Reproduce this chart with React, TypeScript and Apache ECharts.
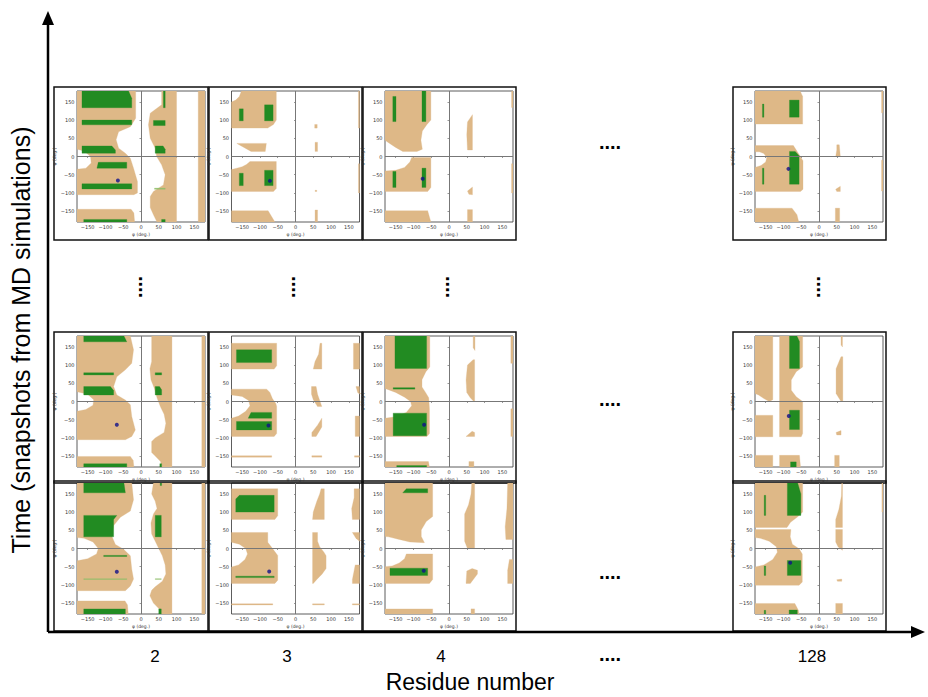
import React, { useEffect, useRef } from "react";
import * as echarts from "echarts";

type Pt = [number, number];

// ---- tick values of every small phi/psi panel ----
const angleTicks = [-150, -100, -50, 0, 50, 100, 150];
const residueLabels = ["2", "3", "4", "....", "128"];

// ---- Row 1 (top snapshot) ----
const tanA: Pt[][] = [
  [[-180,180],[-15,180],[-15,105],[-30,82],[-63,68],[-70,46],[-63,23],[-44,9],[-30,-5],[-21,-32],[-10,-69],[-10,-100],[-20,-105],[-180,-105],[-180,-35],[-155,-32],[-140,-18],[-142,0],[-160,15],[-180,20]],
  [[-180,-145],[-28,-145],[-20,-155],[-18,-180],[-180,-180]],
  [[58,180],[100,180],[100,-180],[45,-180],[35,-160],[26,-140],[26,-110],[35,-96],[63,-78],[68,-50],[58,-23],[44,0],[40,23],[26,50],[21,87],[26,119],[58,142]],
  [[161,180],[180,180],[180,-180],[161,-180]],
];
const greenA: Pt[][] = [
  [[-166,180],[-35,180],[-26,160],[-26,134],[-166,134]],
  [[-166,100],[-26,100],[-26,87],[-166,87]],
  [[-166,29],[-82,29],[-72,18],[-72,9],[-166,9]],
  [[-120,-16],[-40,-16],[-40,-32],[-124,-32]],
  [[-166,-75],[-26,-75],[-26,-89],[-166,-89]],
  [[-161,-173],[-40,-173],[-40,-180],[-161,-180]],
  [[63,180],[68,180],[68,134],[63,134]],
  [[35,99],[68,99],[68,85],[35,85]],
  [[40,29],[62,29],[68,20],[68,9],[40,9]],
  [[58,-173],[68,-173],[68,-180],[58,-180]],
];
const lightA: Pt[][] = [[[38,-87],[68,-87],[68,-90],[38,-90]]];
const dotA: Pt = [-65, -66];

const tanB: Pt[][] = [
  [[-180,150],[-168,155],[-158,165],[-152,180],[-54,180],[-54,100],[-62,88],[-78,78],[-180,78]],
  [[-165,36],[-82,36],[-85,14],[-125,14]],
  [[-180,-36],[-165,-32],[-150,-28],[-138,-22],[-128,-14],[-54,-14],[-54,-88],[-62,-96],[-180,-96]],
  [[-180,-149],[-77,-149],[-58,-180],[-180,-180]],
  [[54,88],[61,88],[61,78],[54,78]],
  [[55,39],[62,39],[62,14],[55,14]],
  [[55,-93],[60,-93],[60,-96],[55,-96]],
  [[55,-147],[62,-147],[62,-180],[55,-180]],
  [[177,180],[180,180],[180,78],[177,78]],
  [[177,-20],[180,-20],[180,-100],[177,-100]],
];
const greenB: Pt[][] = [
  [[-158,131],[-147,131],[-147,98],[-158,98]],
  [[-87,142],[-63,142],[-63,98],[-87,98]],
  [[-158,-46],[-147,-46],[-147,-80],[-158,-80]],
  [[-87,-38],[-63,-38],[-63,-80],[-87,-80]],
];
const dotB: Pt = [-72, -67];

const tanC: Pt[][] = [
  [[-180,180],[-51,180],[-51,100],[-62,88],[-75,70],[-79,45],[-75,20],[-90,14],[-130,14],[-150,25],[-170,38],[-180,45]],
  [[-180,-40],[-150,-38],[-125,-30],[-110,-15],[-105,-3],[-51,-3],[-51,-85],[-60,-96],[-180,-96]],
  [[-180,-149],[-60,-149],[-51,-180],[-180,-180]],
  [[66,115],[52,95],[50,60],[52,18],[66,18]],
  [[52,-95],[66,-84],[66,-105],[56,-104]],
  [[52,-146],[66,-146],[66,-180],[52,-180]],
  [[176,180],[180,180],[180,135],[176,135]],
  [[176,-20],[180,-20],[180,-100],[176,-100]],
];
const greenC: Pt[][] = [
  [[-158,165],[-149,165],[-149,96],[-158,96]],
  [[-76,180],[-65,180],[-65,96],[-76,96]],
  [[-158,-41],[-149,-41],[-149,-85],[-158,-85]],
  [[-76,-32],[-65,-32],[-65,-85],[-76,-85]],
];
const dotC: Pt = [-74, -61];

const tanD: Pt[][] = [
  [[-180,180],[-53,180],[-46,165],[-46,89],[-180,89]],
  [[-180,30],[-72,30],[-45,-12],[-45,-90],[-52,-96],[-180,-96],[-180,-30],[-163,-25],[-150,-15],[-147,-3],[-155,8],[-168,13],[-180,13]],
  [[-180,-142],[-76,-142],[-62,-160],[-57,-180],[-180,-180]],
  [[50,32],[57,32],[60,0],[47,0],[50,18]],
  [[47,-90],[60,-82],[60,-96],[50,-96]],
  [[46,-142],[58,-142],[58,-180],[46,-180]],
  [[176,180],[180,180],[180,120],[176,120]],
  [[176,-10],[180,-10],[180,-95],[176,-95]],
];
const greenD: Pt[][] = [
  [[-159,144],[-155,144],[-155,108],[-159,108]],
  [[-83,155],[-56,155],[-56,108],[-83,108]],
  [[-83,14],[-67,14],[-56,2],[-56,-76],[-83,-76]],
  [[-159,-32],[-155,-32],[-155,-76],[-159,-76]],
];
const dotD: Pt = [-86, -34];

// ---- Row 2 (middle snapshot) ----
const tanE: Pt[][] = [
  [[-180,180],[-30,180],[-21,142],[-26,105],[-44,87],[-68,68],[-77,41],[-68,18],[-44,4],[-30,-9],[-26,-41],[-16,-78],[-26,-96],[-44,-105],[-180,-105],[-180,-27],[-155,-22],[-135,-10],[-133,5],[-150,20],[-180,27]],
  [[-180,-151],[-30,-151],[-22,-162],[-20,-180],[-180,-180]],
  [[30,180],[87,180],[87,-180],[58,-180],[55,-165],[40,-150],[30,-140],[30,-110],[40,-100],[65,-85],[70,-60],[65,-35],[55,-15],[45,10],[38,35],[28,60],[25,90],[30,110]],
  [[171,180],[180,180],[180,-180],[171,-180]],
];
const greenE: Pt[][] = [
  [[-161,180],[-48,180],[-40,164],[-161,164]],
  [[-161,79],[-77,79],[-77,73],[-161,73]],
  [[-161,41],[-86,41],[-77,30],[-77,18],[-161,18]],
  [[-161,-171],[-40,-171],[-40,-180],[-161,-180]],
  [[40,79],[58,79],[58,73],[40,73]],
  [[40,41],[52,41],[58,32],[58,18],[40,18]],
  [[53,-171],[58,-171],[58,-180],[53,-180]],
];
const dotE: Pt = [-68, -64];

const tanF: Pt[][] = [
  [[-180,160],[-53,160],[-53,98],[-60,89],[-180,89]],
  [[-180,34],[-81,34],[-72,25],[-65,8],[-55,-6],[-53,-14],[-53,-88],[-60,-96],[-180,-96],[-180,-46],[-160,-40],[-140,-27],[-128,-12],[-132,3],[-150,14],[-180,18]],
  [[-180,-149],[-67,-149],[-67,-153],[-180,-153]],
  [[69,160],[74,160],[74,89],[50,89],[55,110],[65,130]],
  [[45,41],[58,41],[62,20],[74,-14],[62,-14],[50,5],[45,20]],
  [[74,-46],[74,-70],[58,-96],[46,-96],[46,-85],[62,-65]],
  [[46,-149],[74,-149],[74,-153],[46,-153]],
  [[163,160],[180,160],[180,89],[163,89]],
  [[170,41],[180,41],[180,20],[175,25]],
  [[168,-40],[180,-40],[180,-96],[168,-96]],
  [[166,-149],[180,-149],[180,-153],[166,-153]],
];
const greenF: Pt[][] = [
  [[-166,142],[-67,142],[-67,107],[-166,107]],
  [[-125,-30],[-67,-30],[-67,-46],[-133,-46]],
  [[-166,-55],[-67,-55],[-67,-78],[-166,-78]],
];
const dotF: Pt = [-76, -66];

const tanG: Pt[][] = [
  [[-180,180],[-54,180],[-54,95],[-65,82],[-76,60],[-76,40],[-66,25],[-57,10],[-55,-20],[-55,-88],[-62,-96],[-180,-96],[-180,-46],[-150,-42],[-120,-30],[-105,-12],[-108,0],[-125,12],[-150,25],[-180,36]],
  [[-180,-165],[-58,-165],[-55,-180],[-180,-180]],
  [[68,115],[52,100],[48,60],[50,25],[60,10],[70,0],[72,0],[72,115]],
  [[68,180],[73,180],[73,140],[68,148]],
  [[48,-96],[65,-82],[72,-85],[72,-96]],
  [[56,-165],[70,-165],[70,-180],[56,-180]],
  [[174,180],[180,180],[180,105],[174,105]],
  [[174,-20],[180,-20],[180,-96],[174,-96]],
];
const greenG: Pt[][] = [
  [[-152,180],[-63,180],[-63,91],[-152,91]],
  [[-157,38],[-96,38],[-96,34],[-157,34]],
  [[-157,-32],[-63,-32],[-63,-94],[-157,-94]],
  [[-147,-176],[-63,-176],[-63,-180],[-147,-180]],
];
const dotG: Pt = [-70, -64];

const tanH: Pt[][] = [
  [[-180,180],[-130,180],[-130,5],[-140,0],[-155,8],[-170,18],[-180,22]],
  [[-180,-38],[-130,-38],[-130,-97],[-180,-97]],
  [[-180,-148],[-130,-148],[-130,-180],[-180,-180]],
  [[-111,180],[-46,180],[-46,95],[-64,82],[-78,59],[-78,31],[-64,13],[-46,0],[-46,-88],[-50,-97],[-111,-97]],
  [[-111,-148],[-55,-148],[-52,-180],[-111,-180]],
  [[62,123],[67,123],[67,0],[62,0],[48,22],[48,90]],
  [[62,180],[66,180],[66,150],[62,155]],
  [[48,-85],[62,-80],[62,-92],[50,-92]],
  [[44,-148],[57,-148],[57,-180],[44,-180]],
];
const greenH: Pt[][] = [
  [[-83,180],[-62,180],[-55,165],[-55,91],[-83,91]],
  [[-83,-24],[-55,-24],[-55,-77],[-83,-77]],
  [[-80,-166],[-64,-166],[-64,-180],[-80,-180]],
];
const dotH: Pt = [-85, -40];

// ---- Row 3 (bottom snapshot) ----
const tanI: Pt[][] = [
  [[-180,180],[-26,180],[-21,134],[-30,103],[-58,86],[-77,63],[-82,34],[-72,11],[-49,-2],[-30,-20],[-26,-57],[-21,-84],[-30,-103],[-44,-116],[-180,-116],[-180,-34],[-150,-28],[-125,-15],[-120,0],[-135,18],[-160,28],[-180,30]],
  [[-180,-144],[-45,-144],[-38,-155],[-36,-180],[-180,-180]],
  [[35,180],[87,180],[87,-180],[55,-180],[50,-165],[35,-150],[25,-130],[30,-115],[40,-105],[60,-90],[70,-70],[68,-45],[60,-20],[50,0],[40,20],[30,40],[28,70],[35,95],[45,110],[40,130],[30,150]],
  [[171,180],[180,180],[180,-180],[171,-180]],
];
const greenI: Pt[][] = [
  [[-161,180],[-48,180],[-44,153],[-161,153]],
  [[-161,91],[-68,91],[-77,80],[-77,32],[-161,32]],
  [[-105,-19],[-40,-19],[-40,-22],[-105,-22]],
  [[-161,-166],[-44,-166],[-44,-180],[-161,-180]],
  [[40,91],[57,91],[57,32],[40,32]],
  [[50,-166],[57,-166],[57,-180],[50,-180]],
  [[54,180],[58,180],[58,173],[54,173]],
];
const lightI: Pt[][] = [
  [[-161,-83],[-40,-83],[-40,-85],[-161,-85]],
  [[40,-83],[57,-83],[57,-85],[40,-85]],
];
const dotI: Pt = [-68, -64];

const tanJ: Pt[][] = [
  [[-180,164],[-50,164],[-50,90],[-58,80],[-180,80]],
  [[-180,44],[-78,44],[-78,17],[-64,-1],[-50,-19],[-50,-87],[-58,-96],[-180,-96],[-180,-51],[-160,-45],[-142,-30],[-135,-15],[-140,0],[-158,12],[-180,17]],
  [[-180,-152],[-64,-152],[-64,-155],[-180,-155]],
  [[72,164],[81,164],[81,80],[48,80],[50,100],[60,130],[68,150]],
  [[48,44],[62,44],[62,20],[68,5],[80,-10],[86,-20],[86,-55],[75,-70],[60,-85],[50,-96],[48,-96]],
  [[48,-152],[81,-152],[81,-155],[48,-155]],
  [[165,164],[180,164],[180,80],[160,80],[158,110],[165,140]],
  [[160,44],[180,44],[180,20],[170,28]],
  [[168,-45],[180,-45],[180,-96],[160,-96],[160,-85]],
  [[160,-152],[180,-152],[180,-155],[160,-155]],
];
const greenJ: Pt[][] = [
  [[-158,146],[-60,146],[-60,100],[-168,100],[-168,136]],
  [[-168,-76],[-60,-76],[-60,-80],[-168,-80]],
];
const dotJ: Pt = [-74, -63];

const tanK: Pt[][] = [
  [[-180,180],[-46,180],[-46,88],[-64,74],[-78,51],[-78,33],[-69,16],[-110,18],[-140,25],[-170,32],[-180,33]],
  [[-180,-50],[-160,-48],[-140,-40],[-125,-28],[-120,-15],[-46,-15],[-46,-85],[-55,-96],[-180,-96]],
  [[-180,-166],[-46,-166],[-46,-180],[-180,-180]],
  [[64,180],[72,180],[72,0],[52,0],[44,20],[44,95],[55,120],[62,150]],
  [[50,-62],[65,-55],[80,-60],[80,-70],[60,-96],[48,-96]],
  [[62,-166],[72,-166],[72,-180],[62,-180]],
  [[165,180],[180,180],[180,25],[160,25],[158,60],[163,110]],
  [[170,-30],[180,-30],[180,-96],[165,-96],[165,-60]],
];
const greenK: Pt[][] = [
  [[-120,164],[-60,164],[-60,153],[-130,153]],
  [[-166,-54],[-60,-54],[-60,-74],[-166,-74]],
];
const dotK: Pt = [-71, -61];

const tanL: Pt[][] = [
  [[-180,180],[-46,180],[-46,100],[-60,87],[-80,72],[-90,58],[-180,58]],
  [[-180,52],[-79,52],[-81,32],[-75,12],[-56,-1],[-47,-15],[-47,-92],[-56,-101],[-180,-101],[-180,-51],[-155,-45],[-130,-30],[-117,-10],[-120,5],[-140,20],[-165,28],[-180,30]],
  [[-180,-151],[-68,-151],[-58,-170],[-56,-180],[-180,-180]],
  [[64,180],[66,180],[66,58],[47,58],[47,80],[56,108],[63,144]],
  [[47,52],[66,52],[66,-5],[54,4],[47,18]],
  [[50,-86],[64,-84],[64,-90],[52,-90]],
  [[47,-151],[66,-151],[66,-180],[47,-180]],
  [[177,180],[180,180],[180,100],[177,100]],
];
const greenL: Pt[][] = [
  [[-154,146],[-150,146],[-150,91],[-154,91]],
  [[-89,180],[-60,180],[-51,150],[-51,91],[-89,91]],
  [[-89,-33],[-51,-33],[-51,-74],[-89,-74]],
  [[-154,-48],[-150,-48],[-150,-74],[-154,-74]],
  [[-154,-170],[-150,-170],[-150,-180],[-154,-180]],
  [[-84,-169],[-61,-169],[-61,-180],[-84,-180]],
];
const dotL: Pt = [-81, -39];

// ---- layout (pixels) ----
const colLeft = [77, 231.5, 385, 755];
const rowTop = [91, 336, 483];
const plotW = 128;
const plotH = 131;
const frameX = [[54, 208], [209, 362], [363, 516], [733, 886]];
const frameY = [[87, 240], [332, 483], [481, 631]];
const residueX = [155, 287, 441, 610, 812];

const TAN = "#DEB887";
const GREEN = "#228B22";
const LIGHT = "#8FBF6A";

const panels = [
  { tan: tanA, green: greenA, light: lightA, dot: dotA },
  { tan: tanB, green: greenB, light: [], dot: dotB },
  { tan: tanC, green: greenC, light: [], dot: dotC },
  { tan: tanD, green: greenD, light: [], dot: dotD },
  { tan: tanE, green: greenE, light: [], dot: dotE },
  { tan: tanF, green: greenF, light: [], dot: dotF },
  { tan: tanG, green: greenG, light: [], dot: dotG },
  { tan: tanH, green: greenH, light: [], dot: dotH },
  { tan: tanI, green: greenI, light: lightI, dot: dotI },
  { tan: tanJ, green: greenJ, light: [], dot: dotJ },
  { tan: tanK, green: greenK, light: [], dot: dotK },
  { tan: tanL, green: greenL, light: [], dot: dotL },
];

const fmt = (v: number) => (v < 0 ? "\u2212" + Math.abs(v) : String(v));

function buildOption() {
  const grid: any[] = [];
  const xAxis: any[] = [];
  const yAxis: any[] = [];
  const series: any[] = [];
  const graphic: any[] = [];

  panels.forEach((p, i) => {
    const r = Math.floor(i / 4);
    const c = i % 4;
    grid.push({
      left: colLeft[c], top: rowTop[r], width: plotW, height: plotH,
      show: true, borderColor: "#333", borderWidth: 0.8, backgroundColor: "#fff",
    });
    const axisCommon = {
      gridIndex: i, type: "value", min: -180, max: 180,
      nameLocation: "middle",
      nameTextStyle: { fontSize: 4.5, color: "#333", fontFamily: "DejaVu Sans" },
      axisLine: { show: false },
      axisTick: { show: true, length: 1.5, customValues: angleTicks, lineStyle: { color: "#333", width: 0.5 } },
      axisLabel: { fontSize: 5, color: "#333", margin: 2.5, customValues: angleTicks, formatter: fmt, fontFamily: "DejaVu Sans" },
      splitLine: { show: false },
    };
    xAxis.push({ ...axisCommon, name: "φ (deg.)", nameGap: 10 });
    yAxis.push({ ...axisCommon, name: "ψ (deg.)", nameGap: 15, nameRotate: 90 });

    const items = [
      ...p.tan.map((poly) => ({ poly, color: TAN })),
      ...p.light.map((poly) => ({ poly, color: LIGHT })),
      ...p.green.map((poly) => ({ poly, color: GREEN })),
    ];
    series.push({
      type: "custom",
      coordinateSystem: "cartesian2d",
      xAxisIndex: i, yAxisIndex: i,
      silent: true, clip: true, z: 1,
      data: items.map((it, k) => [it.poly[0][0], it.poly[0][1], k]),
      renderItem: (params: any, api: any) => {
        const it = items[params.dataIndex];
        return {
          type: "polygon",
          shape: { points: it.poly.map((pt) => api.coord(pt)) },
          style: { fill: it.color, stroke: it.color, lineWidth: 0.3 },
        };
      },
    });
    series.push({
      type: "scatter",
      xAxisIndex: i, yAxisIndex: i, z: 3, silent: true,
      symbol: "circle", symbolSize: 4,
      itemStyle: { color: "#10108a" },
      data: [p.dot],
      markLine: {
        silent: true, symbol: ["none", "none"], label: { show: false },
        lineStyle: { color: "#777", width: 1, type: "solid" },
        data: [{ xAxis: 0 }, { yAxis: 0 }],
      },
    });
    graphic.push({
      type: "rect",
      shape: { x: frameX[c][0], y: frameY[r][0], width: frameX[c][1] - frameX[c][0], height: frameY[r][1] - frameY[r][0] },
      style: { fill: "none", stroke: "#111", lineWidth: 1.5 },
    });
  });

  // main axes with arrows
  graphic.push(
    { type: "line", shape: { x1: 48, y1: 632, x2: 914, y2: 632 }, style: { stroke: "#000", lineWidth: 2.5 } },
    { type: "line", shape: { x1: 48, y1: 632, x2: 48, y2: 22 }, style: { stroke: "#000", lineWidth: 2.5 } },
    { type: "polygon", shape: { points: [[42, 25], [54, 25], [48, 11]] }, style: { fill: "#000" } },
    { type: "polygon", shape: { points: [[911, 626], [911, 638], [925, 632]] }, style: { fill: "#000" } },
  );

  residueLabels.forEach((t, k) => {
    graphic.push({
      type: "text", x: residueX[k], y: t === "...." ? 664 : 656,
      style: {
        text: t, fill: "#000", fontSize: t === "...." ? 20 : 17,
        fontWeight: t === "...." ? "bold" : "normal",
        fontFamily: "Liberation Sans", align: "center",
        verticalAlign: t === "...." ? "bottom" : "middle",
      },
    });
  });
  graphic.push({
    type: "text", x: 470, y: 682,
    style: { text: "Residue number", fill: "#000", fontSize: 23, fontFamily: "Liberation Sans", align: "center", verticalAlign: "middle" },
  });
  graphic.push({
    type: "text", x: 21, y: 340, rotation: Math.PI / 2,
    style: { text: "Time (snapshots from MD simulations)", fill: "#000", fontSize: 25, fontFamily: "Liberation Sans", align: "center", verticalAlign: "middle" },
  });

  // ellipsis marks between panels
  const hDots: [number, number][] = [[610, 152], [610, 409], [610, 582]];
  hDots.forEach(([x, y]) => {
    graphic.push({
      type: "text", x, y,
      style: { text: "....", fill: "#000", fontSize: 20, fontWeight: "bold", fontFamily: "Liberation Sans", align: "center", verticalAlign: "bottom" },
    });
  });
  const vDots: [number, number][] = [[136, 287], [289, 287], [443, 287], [814, 287]];
  vDots.forEach(([x, y]) => {
    graphic.push({
      type: "text", x, y, rotation: -Math.PI / 2,
      style: { text: "....", fill: "#000", fontSize: 20, fontWeight: "bold", fontFamily: "Liberation Sans", align: "center", verticalAlign: "bottom" },
    });
  });

  return { animation: false, backgroundColor: "#fff", grid, xAxis, yAxis, series, graphic };
}

export default function App() {
  const ref = useRef<HTMLDivElement>(null);
  useEffect(() => {
    const chart = echarts.init(ref.current!, null, { renderer: "svg" });
    chart.setOption(buildOption() as any);
    return () => chart.dispose();
  }, []);
  return <div ref={ref} style={{ position: "absolute", left: 0, top: 0, width: 928, height: 697 }} />;
}
